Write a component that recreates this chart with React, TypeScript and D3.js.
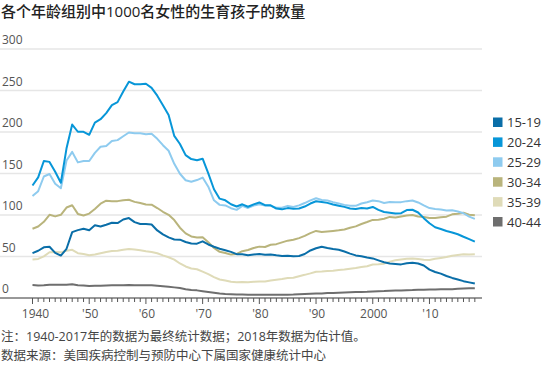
import * as d3 from 'd3'

// years 1940..2018
const years = d3.range(1940, 2019)

const groups = ['15-19', '20-24', '25-29', '30-34', '35-39', '40-44']
const colors = ['#0a6ea8', '#0796d8', '#8ecbef', '#b9b47c', '#dfdbb8', '#6e6e6e']

const r15_19 = [
  54.1, 56.9, 61.1, 61.7, 54.3, 51.1, 59.3, 79.3, 81.8, 83.4,
  81.6, 87.6, 86.1, 88.2, 90.6, 90.3, 94.6, 96.3, 91.4, 89.1,
  89.1, 88.6, 81.4, 76.7, 73.1, 70.5, 70.3, 67.5, 65.6, 65.5,
  68.3, 64.5, 61.7, 59.3, 57.5, 55.6, 52.8, 52.8, 51.5, 52.3,
  53.0, 52.2, 52.4, 51.4, 50.6, 51.0, 50.2, 50.6, 53.0, 57.3,
  59.9, 61.8, 60.3, 59.0, 58.2, 56.0, 53.5, 51.3, 50.3, 48.8,
  47.7, 45.3, 43.0, 41.6, 41.1, 40.5, 41.9, 42.5, 41.5, 39.1,
  34.2, 31.3, 29.4, 26.5, 24.2, 22.3, 20.3, 18.8, 17.4,
]
const r20_24 = [
  135.6, 145.4, 165.1, 164.0, 152.2, 138.9, 180.3, 209.0, 200.3, 200.2,
  196.6, 211.3, 215.4, 222.8, 232.3, 236.0, 248.9, 260.6, 257.5, 257.5,
  258.1, 253.2, 243.8, 232.2, 220.5, 195.3, 185.6, 172.1, 167.4, 166.0,
  167.8, 150.1, 131.0, 119.7, 117.7, 113.0, 110.3, 112.9, 109.9, 112.8,
  115.1, 111.8, 111.6, 107.8, 106.8, 108.3, 107.4, 107.9, 110.2, 113.8,
  116.5, 115.7, 114.6, 112.6, 111.1, 109.8, 107.8, 107.3, 108.4, 107.9,
  109.7, 106.2, 103.6, 102.6, 101.7, 102.2, 105.9, 106.3, 103.0, 96.2,
  90.0, 85.3, 83.1, 80.7, 79.0, 76.8, 73.8, 71.0, 68.0,
]
const r25_29 = [
  122.8, 128.7, 146.4, 149.4, 137.7, 132.2, 165.6, 176.0, 163.4, 165.1,
  165.1, 174.9, 182.2, 183.1, 189.2, 190.2, 194.9, 199.4, 198.6, 198.5,
  197.4, 197.8, 191.8, 184.1, 177.4, 161.6, 149.7, 141.9, 140.1, 142.1,
  145.1, 134.1, 117.7, 112.2, 111.5, 108.2, 106.2, 111.0, 108.5, 111.4,
  112.9, 111.5, 111.0, 108.7, 108.7, 111.0, 109.8, 111.6, 114.4, 117.6,
  120.2, 118.2, 117.4, 115.5, 113.9, 112.2, 111.1, 111.0, 113.8, 115.4,
  117.5, 116.7, 114.5, 115.6, 115.5, 115.5, 116.7, 117.5, 115.1, 111.5,
  108.3, 107.2, 106.5, 105.5, 105.8, 104.3, 102.1, 98.0, 95.3,
]
const r30_34 = [
  83.4, 86.2, 91.8, 100.2, 98.3, 100.2, 109.0, 111.7, 101.3, 99.4,
  101.7, 107.3, 113.6, 117.3, 116.7, 116.7, 117.9, 118.3, 115.8, 114.4,
  112.7, 112.4, 108.4, 103.9, 100.2, 93.9, 84.7, 77.9, 74.1, 72.9,
  73.3, 67.3, 60.3, 55.6, 54.2, 52.3, 53.1, 56.4, 57.8, 60.3,
  61.9, 61.4, 64.1, 64.9, 67.0, 69.1, 70.1, 72.1, 74.8, 78.1,
  80.8, 79.5, 80.2, 80.8, 81.5, 82.5, 84.6, 86.3, 89.2, 91.5,
  94.1, 94.3, 95.5, 97.7, 97.0, 98.2, 99.3, 100.0, 98.2, 97.6,
  96.5, 96.5, 97.3, 98.0, 100.8, 101.5, 102.7, 100.3, 99.7,
]
const r35_39 = [
  46.3, 47.1, 50.2, 55.2, 55.4, 55.0, 57.0, 58.0, 54.0, 53.0,
  51.4, 52.5, 54.0, 55.5, 56.5, 57.0, 58.0, 59.0, 58.5, 57.5,
  56.2, 55.5, 53.9, 51.4, 49.1, 46.2, 41.6, 38.0, 35.6, 34.6,
  31.7, 28.7, 25.1, 22.3, 21.1, 19.5, 19.0, 19.2, 19.0, 19.5,
  19.8, 20.0, 21.2, 22.0, 22.9, 24.0, 24.4, 26.3, 27.9, 29.7,
  31.7, 32.0, 32.5, 32.9, 33.7, 34.3, 35.3, 36.1, 37.4, 38.3,
  40.4, 40.6, 41.4, 43.8, 45.4, 46.3, 47.3, 47.5, 46.9, 46.1,
  45.9, 47.2, 48.3, 49.3, 51.0, 51.8, 52.7, 52.3, 52.6,
]
const r40_44 = [
  15.6, 15.2, 15.5, 16.1, 15.9, 15.9, 16.0, 16.6, 15.4, 15.2,
  14.5, 14.8, 14.8, 15.2, 15.5, 15.3, 15.5, 15.8, 15.3, 15.5,
  15.5, 15.3, 14.7, 14.1, 13.5, 12.8, 12.0, 10.6, 9.6, 9.2,
  8.1, 7.1, 6.2, 5.4, 4.9, 4.6, 4.3, 4.2, 3.9, 3.9,
  3.9, 3.8, 3.9, 4.0, 3.9, 4.0, 4.1, 4.4, 4.8, 5.2,
  5.5, 5.5, 5.9, 6.1, 6.4, 6.6, 6.8, 7.1, 7.3, 7.4,
  7.9, 8.1, 8.3, 8.7, 8.9, 9.1, 9.4, 9.5, 9.9, 10.0,
  10.2, 10.3, 10.4, 10.4, 10.6, 11.0, 11.4, 11.6, 11.8,
]
const series = [r15_19, r20_24, r25_29, r30_34, r35_39, r40_44]

const yTicks = [0, 50, 100, 150, 200, 250, 300]
const xLabels: [number, string][] = [
  [1940, '1940'], [1950, "'50"], [1960, "'60"], [1970, "'70"],
  [1980, "'80"], [1990, "'90"], [2000, '2000'], [2010, "'10"],
]

const title = '各个年龄组别中1000名女性的生育孩子的数量'
const note = '注：1940-2017年的数据为最终统计数据；2018年数据为估计值。'
const source = '数据来源：美国疾病控制与预防中心下属国家健康统计中心'

const W = 550
const H = 367
const FONT = '"Open Sans", "Noto Sans CJK SC", sans-serif'

export default function App() {
  const x = d3.scaleLinear().domain([1940, 2019]).range([32.5, 480.5])
  const y = d3.scaleLinear().domain([0, 300]).range([298, 49])
  const line = d3
    .line<number>()
    .x((_, i) => x(years[i]))
    .y((d) => y(d))

  // draw back to front so darker blues sit on top
  const order = [5, 4, 3, 2, 1, 0]

  return (
    <svg width={W} height={H} style={{ position: 'absolute', left: 0, top: 0 }} fontFamily={FONT}>
      <rect width={W} height={H} fill="#fff" />
      <text x={1} y={17} fontSize={15} fill="#222" fontWeight={500}>{title}</text>

      {/* gridlines + y labels */}
      {yTicks.map((t) => (
        <g key={t}>
          {t > 0 && <line x1={0} x2={482} y1={y(t)} y2={y(t)} stroke="#e6e6e6" strokeWidth={1.5} />}
          <text x={2} y={y(t) - 5} fontSize={12} fill="#555">{t}</text>
        </g>
      ))}

      {/* lines */}
      {order.map((k) => (
        <path key={groups[k]} d={line(series[k]) ?? ''} fill="none" stroke={colors[k]}
          strokeWidth={2} strokeLinejoin="round" />
      ))}

      {/* x axis */}
      <line x1={0} x2={482} y1={298} y2={298} stroke="#333" strokeWidth={1} />
      {years.map((yr) => (
        <line key={yr} x1={x(yr)} x2={x(yr)} y1={298} y2={yr % 10 === 0 ? 304 : 302}
          stroke="#555" strokeWidth={1} />
      ))}
      {xLabels.map(([yr, lbl]) => (
        <text key={yr} x={x(yr) + (yr === 1940 ? 3 : 1)} y={318} fontSize={12} fill="#555" textAnchor="middle">{lbl}</text>
      ))}

      {/* legend */}
      {groups.map((g, i) => (
        <g key={g} transform={`translate(493, ${122.5 + i * 19.9})`}>
          <rect x={0} y={-5} width={9.5} height={9.5} fill={colors[i]} />
          <text x={14} y={4.5} fontSize={13} fill="#333">{g}</text>
        </g>
      ))}

      <text x={1} y={341} fontSize={12.5} fill="#444">{note}</text>
      <text x={1} y={359.5} fontSize={12.5} fill="#444">{source}</text>
    </svg>
  )
}
